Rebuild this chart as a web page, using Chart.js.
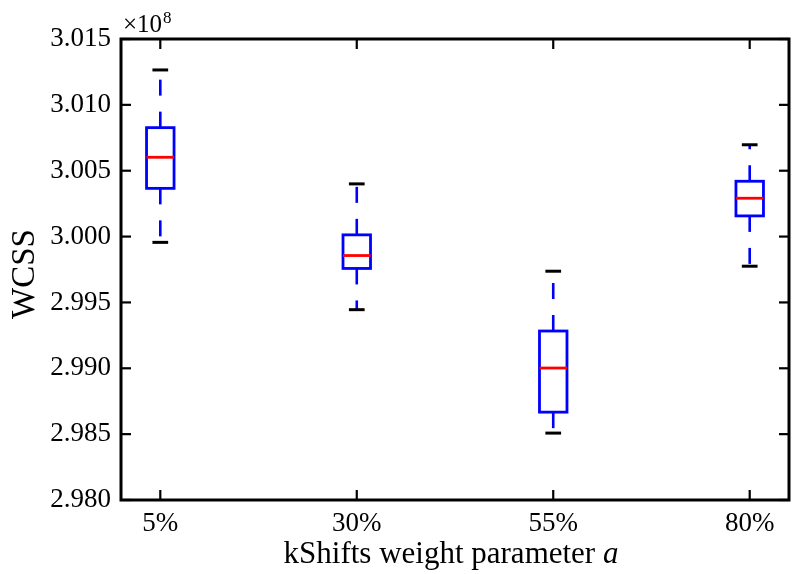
<!DOCTYPE html>
<html>
<head>
<meta charset="utf-8">
<title>WCSS by kShifts weight parameter</title>
<script src="https://cdn.jsdelivr.net/npm/chart.js@4.4.1/dist/chart.umd.min.js"></script>
<style>
  html, body { margin: 0; padding: 0; background: #fff; }
  #wrap { width: 792px; height: 574px; }
</style>
</head>
<body>
<div id="wrap"><canvas id="wcssChart" width="792" height="574"></canvas></div>
<script>
// box plot summary per weight setting (WCSS, in units of 1e8)
const labels      = ["5%", "30%", "55%", "80%"];
const whiskerLow  = [2.99956, 2.99445, 2.98508, 2.99775];
const lowerQuart  = [3.00366, 2.99758, 2.98667, 3.00157];
const medians     = [3.00602, 2.99856, 2.99002, 3.00291];
const upperQuart  = [3.00827, 3.00013, 2.99283, 3.00420];
const whiskerHigh = [3.01265, 3.00400, 2.99737, 3.00697];

const SERIF = "'Liberation Serif', 'DejaVu Serif', serif";

function line(ctx, x1, y1, x2, y2) {
  ctx.beginPath();
  ctx.moveTo(x1, y1);
  ctx.lineTo(x2, y2);
  ctx.stroke();
}

/* BOXES, WHISKERS, CAPS, MEDIANS */
const boxPlotPlugin = {
  id: "boxPlot",
  afterDatasetsDraw(chart) {
    const { ctx, scales: { x, y } } = chart;
    const half = 0.07;
    const capHalf = 0.04;

    ctx.save();
    ctx.lineCap = "butt";

    labels.forEach((_, i) => {
      const pos = i + 1;
      const xc = x.getPixelForValue(pos);
      const xl = x.getPixelForValue(pos - half);
      const xr = x.getPixelForValue(pos + half);
      const cl = x.getPixelForValue(pos - capHalf);
      const cr = x.getPixelForValue(pos + capHalf);

      const yLo = y.getPixelForValue(whiskerLow[i]);
      const yQ1 = y.getPixelForValue(lowerQuart[i]);
      const yMed = y.getPixelForValue(medians[i]);
      const yQ3 = y.getPixelForValue(upperQuart[i]);
      const yHi = y.getPixelForValue(whiskerHigh[i]);

      // dashed whiskers, dashes start at the box edge
      ctx.strokeStyle = "#0000ff";
      ctx.lineWidth = 2.6;
      ctx.setLineDash([16, 16]);
      line(ctx, xc, yQ3, xc, yHi);
      line(ctx, xc, yQ1, xc, yLo);
      ctx.setLineDash([]);

      // caps
      ctx.strokeStyle = "#000000";
      ctx.lineWidth = 3;
      line(ctx, cl, yHi, cr, yHi);
      line(ctx, cl, yLo, cr, yLo);

      // box
      ctx.strokeStyle = "#0000ff";
      ctx.lineWidth = 2.8;
      ctx.strokeRect(xl, yQ3, xr - xl, yQ1 - yQ3);

      // median
      ctx.strokeStyle = "#ff0000";
      ctx.lineWidth = 2.8;
      line(ctx, xl, yMed, xr, yMed);
    });

    ctx.restore();
  }
};

/* FRAME + INWARD TICKS ON ALL FOUR SIDES */
const framePlugin = {
  id: "frame",
  afterDraw(chart) {
    const { ctx, chartArea: a, scales: { x, y } } = chart;
    const len = 10;

    ctx.save();
    ctx.strokeStyle = "#000";
    ctx.lineWidth = 2.2;

    y.ticks.forEach(t => {
      const py = y.getPixelForValue(t.value);
      line(ctx, a.left, py, a.left + len, py);
      line(ctx, a.right, py, a.right - len, py);
    });

    x.ticks.forEach(t => {
      const px = x.getPixelForValue(t.value);
      line(ctx, px, a.bottom, px, a.bottom - len);
      line(ctx, px, a.top, px, a.top + len);
    });

    ctx.lineWidth = 3;
    ctx.strokeRect(a.left, a.top, a.right - a.left, a.bottom - a.top);
    ctx.restore();
  }
};

/* AXIS TITLES + OFFSET TEXT */
const textPlugin = {
  id: "axisText",
  afterDraw(chart) {
    const { ctx, chartArea: a } = chart;
    ctx.save();
    ctx.fillStyle = "#000";
    ctx.textBaseline = "alphabetic";

    // offset label above the y axis
    ctx.textAlign = "left";
    ctx.font = "25px " + SERIF;
    ctx.fillText("\u00d710", a.left + 2, 32);
    const w = ctx.measureText("\u00d710").width;
    ctx.font = "17px " + SERIF;
    ctx.fillText("8", a.left + 3 + w, 23);

    // x title, with italic parameter name
    const plain = "kShifts weight parameter ";
    ctx.font = "31px " + SERIF;
    const wPlain = ctx.measureText(plain).width;
    ctx.font = "italic 31px " + SERIF;
    const wIt = ctx.measureText("a").width;
    const start = (a.left + a.right) / 2 - (wPlain + wIt) / 2 - 4;
    ctx.font = "31px " + SERIF;
    ctx.fillText(plain, start, 563);
    ctx.font = "italic 31px " + SERIF;
    ctx.fillText("a", start + wPlain, 563);

    // y title
    ctx.translate(34, 274);
    ctx.rotate(-Math.PI / 2);
    ctx.textAlign = "center";
    ctx.font = "33px " + SERIF;
    ctx.fillText("WCSS", 0, 0);

    ctx.restore();
  }
};

new Chart(
  document.getElementById("wcssChart"),
  {
    type: "scatter",

    data: {
      datasets: [{
        data: medians.map((m, i) => ({ x: i + 1, y: m })),
        pointRadius: 0,
        showLine: false
      }]
    },

    options: {
      responsive: false,
      animation: false,
      events: [],

      layout: {
        padding: { top: 39, right: 3, left: 0, bottom: 0 }
      },

      plugins: {
        legend: { display: false },
        tooltip: { enabled: false }
      },

      scales: {
        x: {
          type: "linear",
          min: 0.8,
          max: 4.2,
          grid: { display: false, drawTicks: false },
          border: { display: false },
          afterBuildTicks: s => {
            s.ticks = labels.map((_, i) => ({ value: i + 1 }));
          },
          afterFit: s => { s.height = 74; },
          ticks: {
            color: "#000",
            padding: 8,
            maxRotation: 0,
            font: { family: SERIF, size: 27 },
            callback: v => labels[v - 1]
          }
        },

        y: {
          type: "linear",
          min: 2.980,
          max: 3.015,
          grid: { display: false, drawTicks: false },
          border: { display: false },
          afterFit: s => { s.width = 121; },
          ticks: {
            color: "#000",
            padding: 10,
            stepSize: 0.005,
            font: { family: SERIF, size: 27 },
            callback: v => v.toFixed(3)
          }
        }
      }
    },

    plugins: [boxPlotPlugin, framePlugin, textPlugin]
  }
);
</script>
</body>
</html>
